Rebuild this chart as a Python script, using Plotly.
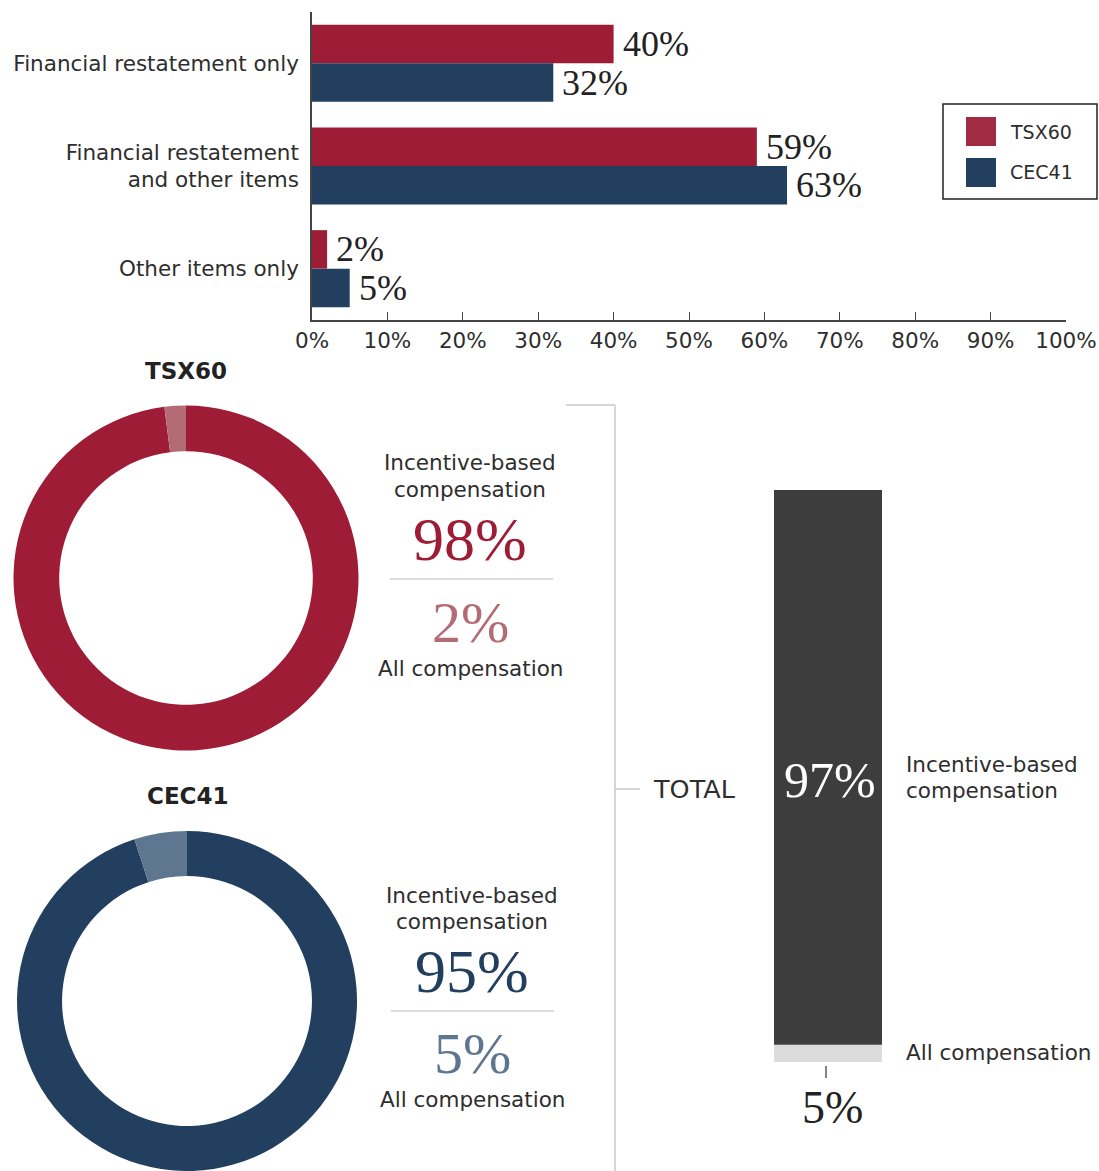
import plotly.graph_objects as go

# ---------------- data ----------------
categories = ["Financial restatement only", "Financial restatement<br>and other items", "Other items only"]
tsx60_pct = [40, 59, 2]
cec41_pct = [32, 63, 5]
x_ticks = [0, 10, 20, 30, 40, 50, 60, 70, 80, 90, 100]
x_ticklabels = [f"{v}%" for v in x_ticks]

donut_names = ["TSX60", "CEC41"]
donut_incentive = [98, 95]    # "Incentive-based compensation"
donut_all = [2, 5]            # "All compensation"

total_segments = ["All compensation", "Incentive-based compensation"]
total_drawn = [3, 97]         # segment sizes as drawn
total_labels = ["5%", "97%"]  # labels as printed

# ---------------- style ----------------
W, H = 1099, 1171
RED, RED_L = "#9E1C35", "#B36C75"
NAVY, NAVY_L = "#223F60", "#5F7690"
DARK, LIGHT = "#3D3D3D", "#DCDCDC"
SANS = "DejaVu Sans"
SERIF = "Liberation Serif"
TXT = "#2E2E2E"
GRAY_LINE = "#C9C9C9"
FS = 21.5


def px(x):
    return x / W


def py(y):
    return 1 - y / H


fig = go.Figure()

# ---------------- top grouped bar chart ----------------
fig.add_trace(go.Bar(y=categories, x=tsx60_pct, orientation="h", name="TSX60",
                     marker=dict(color=RED, line=dict(width=0)), showlegend=False,
                     xaxis="x", yaxis="y"))
fig.add_trace(go.Bar(y=categories, x=cec41_pct, orientation="h", name="CEC41",
                     marker=dict(color=NAVY, line=dict(width=0)), showlegend=False,
                     xaxis="x", yaxis="y"))

annotations = []
n = len(categories)
group_w = 0.75
for i, cat in enumerate(categories):
    for j, vals in enumerate([tsx60_pct, cec41_pct]):
        off = (j - 0.5) * group_w / 2
        annotations.append(dict(
            x=vals[i], y=i + off, xref="x", yref="y", text=f"{vals[i]}%",
            showarrow=False, xanchor="left", yanchor="middle", xshift=7,
            font=dict(family=SERIF, size=36, color="#222")))

# ---------------- donuts ----------------
donut_domains = [
    dict(x=[px(13.5), px(358.5)], y=[py(750.5), py(405.5)]),
    dict(x=[px(15), px(359)], y=[0, py(831)]),
]
donut_colors = [[RED, RED_L], [NAVY, NAVY_L]]
for k in range(2):
    fig.add_trace(go.Pie(values=[donut_incentive[k], donut_all[k]],
                         labels=["Incentive-based compensation", "All compensation"],
                         hole=0.735, sort=False, direction="counterclockwise", rotation=0,
                         marker=dict(colors=donut_colors[k], line=dict(width=0)),
                         textinfo="none", showlegend=False, domain=donut_domains[k]))

# ---------------- total stacked bar ----------------
fig.add_trace(go.Bar(x=[0], y=[total_drawn[0]], marker=dict(color=LIGHT, line=dict(width=0)), width=1,
                     offsetgroup="t", xaxis="x2", yaxis="y2", showlegend=False))
fig.add_trace(go.Bar(x=[0], y=[total_drawn[1]], base=[total_drawn[0]],
                     marker=dict(color=DARK, line=dict(width=0)), width=1,
                     offsetgroup="t", xaxis="x2", yaxis="y2", showlegend=False))


# ---------------- texts ----------------
def ann(x, y, text, size, color=TXT, family=SANS, xanchor="center", weight=None):
    f = dict(family=family, size=size, color=color)
    if weight:
        f["weight"] = weight
    annotations.append(dict(x=px(x), y=py(y), xref="paper", yref="paper", text=text,
                            showarrow=False, xanchor=xanchor, yanchor="middle", font=f))


# donut titles
ann(186, 371, donut_names[0], 23, "#222", weight="bold")
ann(187, 796, donut_names[1], 23, "#222", weight="bold")

# donut 1 side texts
ann(470, 463, "Incentive-based", FS)
ann(470, 489, "compensation", FS)
ann(470, 539, f"{donut_incentive[0]}%", 62, RED, SERIF)
ann(470, 622, f"{donut_all[0]}%", 58, RED_L, SERIF)
ann(470, 668, "All compensation", FS)
# donut 2 side texts
ann(472, 895, "Incentive-based", FS)
ann(472, 921, "compensation", FS)
ann(472, 971, f"{donut_incentive[1]}%", 62, NAVY, SERIF)
ann(472, 1053, f"{donut_all[1]}%", 58, NAVY_L, SERIF)
ann(472, 1099, "All compensation", FS)

# total section
ann(694, 789, "TOTAL", 25.5)
ann(830, 780, total_labels[1], 50, "white", SERIF)
ann(904, 764, "Incentive-based", FS, xanchor="left")
ann(904, 790, "compensation", FS, xanchor="left")
ann(904, 1052, "All compensation", FS, xanchor="left")
ann(832, 1107, total_labels[0], 46, "#222", SERIF)

# legend
ann(1008, 132, "TSX60", 19, xanchor="left")
ann(1008, 172, "CEC41", 19, xanchor="left")

shapes = []


def line(x0, y0, x1, y1, color=GRAY_LINE, width=1.5):
    shapes.append(dict(type="line", xref="paper", yref="paper", x0=px(x0), y0=py(y0),
                       x1=px(x1), y1=py(y1), line=dict(color=color, width=width)))


def rect(x0, y0, x1, y1, fill=None, lc=None, lw=0):
    shapes.append(dict(type="rect", xref="paper", yref="paper", x0=px(x0), y0=py(y0),
                       x1=px(x1), y1=py(y1), fillcolor=fill or "rgba(0,0,0,0)",
                       line=dict(color=lc or "rgba(0,0,0,0)", width=lw)))


# legend box and swatches
rect(943, 104, 1097, 199, lc="#222", lw=1.5)
rect(966, 117, 996, 146, fill="#A12B42")
rect(966, 158, 996, 187, fill=NAVY)

# dividers
line(390, 579, 553, 579, "#D0D0D0", 1.5)
line(391, 1011, 554, 1011, "#D0D0D0", 1.5)

# bracket
line(566, 405, 615, 405)
line(615, 405, 615, 1171)
line(615, 789, 640, 789)

# tick below total bar
line(826, 1066, 826, 1078, "#333", 1.2)

fig.update_layout(
    template="none",
    width=W, height=H, autosize=False, margin=dict(l=0, r=0, t=0, b=0, pad=0),
    paper_bgcolor="white", plot_bgcolor="white", showlegend=False,
    barmode="group", bargap=0.25, bargroupgap=0,
    annotations=annotations, shapes=shapes,
    xaxis=dict(domain=[px(312), px(1066)], range=[0, 100], tickvals=x_ticks, ticktext=x_ticklabels,
               ticks="inside", ticklen=8, tickwidth=1.2, tickcolor="#444",
               showline=True, linecolor="#444", linewidth=1.5, automargin=False,
               showgrid=False, zeroline=False, anchor="y",
               tickfont=dict(family=SANS, size=FS, color=TXT), fixedrange=True),
    yaxis=dict(domain=[py(320), py(12)], range=[n - 0.5, -0.5], type="category",
               showline=True, linecolor="#444", linewidth=1.5, ticks="", automargin=False,
               showgrid=False, zeroline=False, anchor="x", ticklabelstandoff=7,
               tickfont=dict(family=SANS, size=FS, color=TXT), fixedrange=True),
    xaxis2=dict(domain=[px(774), px(882)], range=[-0.5, 0.5], visible=False, anchor="y2",
                automargin=False),
    yaxis2=dict(domain=[py(1062), py(490)], range=[0, 100], visible=False, anchor="x2",
                automargin=False),
)

fig.write_html(
    "out.html",
    config={"responsive": False, "displayModeBar": False},
    post_script="document.body.style.margin='0';document.body.style.padding='0';"
                "document.documentElement.style.overflow='hidden';",
)
